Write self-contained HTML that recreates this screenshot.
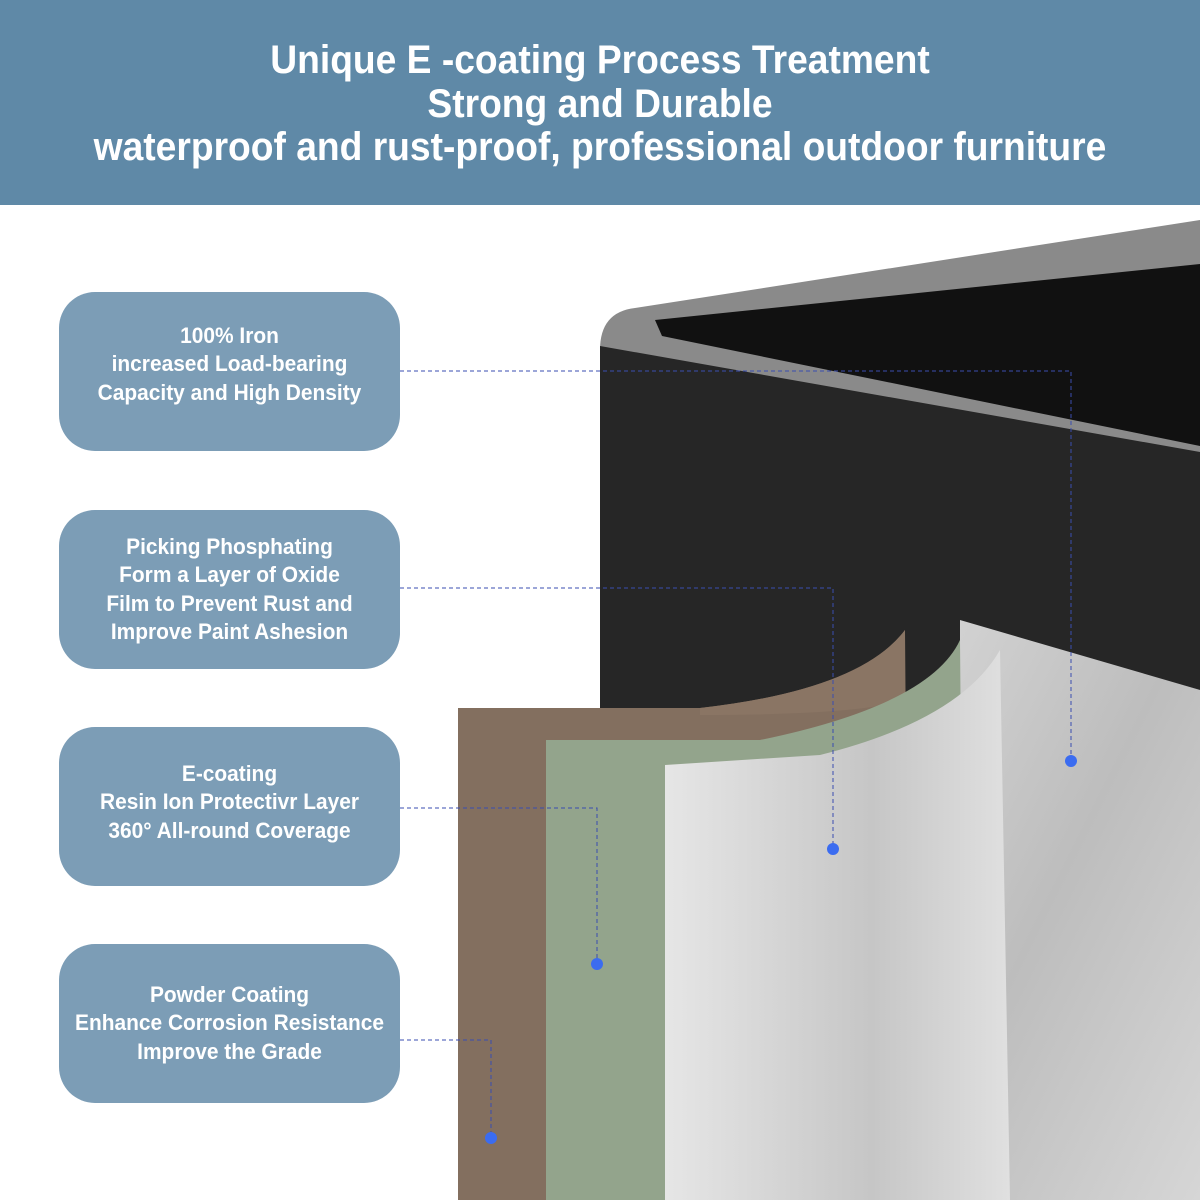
<!DOCTYPE html>
<html><head><meta charset="utf-8"><style>
body{margin:0;width:1200px;height:1200px;overflow:hidden;background:#fff;font-family:"Liberation Sans",sans-serif;position:relative}
.hd{position:absolute;left:0;top:0;width:1200px;height:205px;background:#5f89a7;color:#fff;text-align:center}
.hd div{position:absolute;left:0;width:1200px;font-size:40px;font-weight:bold;transform:scaleX(0.93);transform-origin:center}
.bx{position:absolute;left:59px;width:341px;height:159px;border-radius:36px;background:#7c9db6;color:#fff;font-size:22px;font-weight:bold;text-align:center;display:flex;flex-direction:column;justify-content:center;line-height:28.5px;box-sizing:border-box}
.bx span{display:block;transform:scaleX(0.95)}
svg{position:absolute;left:0;top:0}
</style></head><body>
<svg width="1200" height="1200">
<defs>
<linearGradient id="sil" x1="0" x2="1" y1="0" y2="1"><stop offset="0" stop-color="#d8d8d8"/><stop offset="0.5" stop-color="#bdbdbd"/><stop offset="1" stop-color="#d6d6d6"/></linearGradient>
<linearGradient id="sil2" x1="0" x2="1"><stop offset="0" stop-color="#e6e6e6"/><stop offset="0.6" stop-color="#c6c6c6"/><stop offset="1" stop-color="#e0e0e0"/></linearGradient>
</defs>
<polygon points="900,600 1200,690 1200,1200 940,1200" fill="url(#sil)"/>
<path d="M600,350 Q600,312 635,308 L1200,220 L1200,455 L600,355Z" fill="#8a8a8a"/>
<polygon points="655,320 1200,264 1200,446 662,336" fill="#111"/>
<polygon points="600,346 1200,452 1200,690 960,620 960,708 600,708" fill="#262626"/>
<path d="M458,708 L700,708 Q860,690 905,630 L910,1200 L458,1200Z" fill="#836f5f"/>
<path d="M700,708 Q860,690 905,630 L905,700 Q860,715 700,715Z" fill="#8a7564"/>
<path d="M546,740 L760,740 Q930,705 960,640 L965,1200 L546,1200Z" fill="#93a48c"/>
<path d="M665,765 L820,755 Q960,720 1000,650 L1010,1200 L665,1200Z" fill="url(#sil2)"/>
<g stroke="#3a4db0" stroke-width="1" stroke-dasharray="4,3" fill="none">
<polyline points="400,371 1071,371 1071,760"/>
<polyline points="400,588 833,588 833,848"/>
<polyline points="400,808 597,808 597,963"/>
<polyline points="400,1040 491,1040 491,1137"/>
</g>
<g fill="#3b6cf0">
<circle cx="1071" cy="761" r="6"/><circle cx="833" cy="849" r="6"/><circle cx="597" cy="964" r="6"/><circle cx="491" cy="1138" r="6"/>
</g>
</svg>
<div class="hd">
<div style="top:38px">Unique E -coating Process Treatment</div>
<div style="top:82px">Strong and Durable</div>
<div style="top:125px">waterproof and rust-proof, professional outdoor furniture</div>
</div>
<div class="bx" style="top:292px;padding-bottom:14px"><span>100% Iron</span><span>increased Load-bearing</span><span>Capacity and High Density</span></div>
<div class="bx" style="top:510px"><span>Picking Phosphating</span><span>Form a Layer of Oxide</span><span>Film to Prevent Rust and</span><span>Improve Paint Ashesion</span></div>
<div class="bx" style="top:727px;padding-bottom:8px"><span>E-coating</span><span>Resin Ion Protectivr Layer</span><span>360° All-round Coverage</span></div>
<div class="bx" style="top:944px"><span>Powder Coating</span><span>Enhance Corrosion Resistance</span><span>Improve the Grade</span></div>
</body></html>
